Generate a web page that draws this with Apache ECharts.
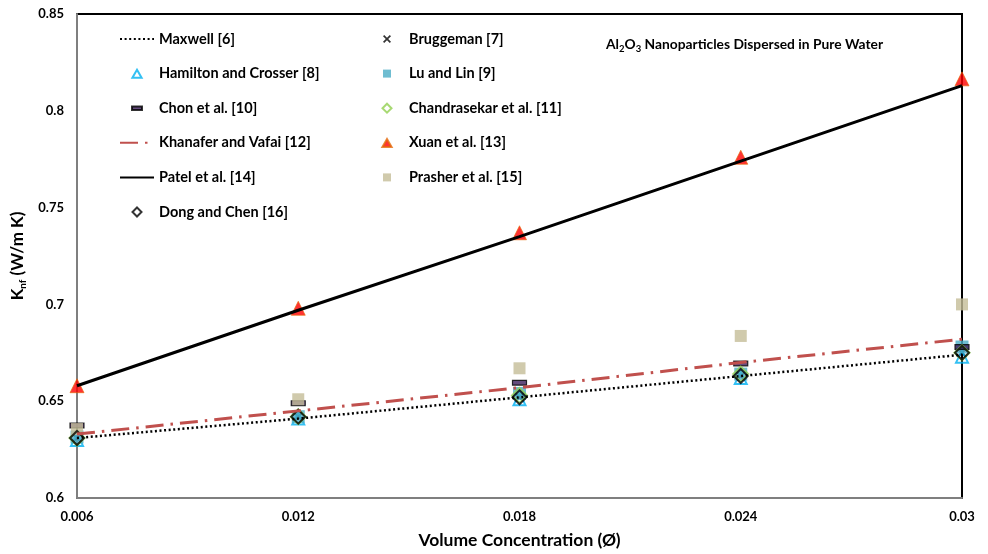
<!DOCTYPE html>
<html><head><meta charset="utf-8">
<script src="https://cdn.jsdelivr.net/npm/echarts@6/dist/echarts.min.js"></script>
<style>html,body{margin:0;padding:0;background:#fff}#c{width:988px;height:554px}</style>
</head><body><div id="c"></div>
<script>
const xLabels = ['0.006','0.012','0.018','0.024','0.03'];
const maxwell = [0.631,0.641,0.652,0.663,0.674];
const bruggeman = [0.631,0.642,0.652,0.663,0.675];
const hamilton = [0.630,0.641,0.651,0.662,0.673];
const luLin = [0.6315,0.642,0.654,0.664,0.678];
const chon = [0.6375,0.649,0.6595,0.6695,0.678];
const chandra = [0.631,0.642,0.653,0.664,0.675];
const khanafer = [0.633,0.645,0.657,0.670,0.682];
const xuan = [0.658,0.698,0.737,0.776,0.8165];
const patel = [0.658,0.697,0.735,0.774,0.813];
const prasher = [0.6356,0.651,0.667,0.6837,0.700];
const dong = [0.631,0.642,0.652,0.663,0.675];

const FONT = 'Lato';
const crossPath = 'path://M0,1.4L1.4,0L5,3.6L8.6,0L10,1.4L6.4,5L10,8.6L8.6,10L5,6.4L1.4,10L0,8.6L3.6,5Z';
const dashPath = 'path://M0,0M14,14M0,4.6h14v4.8h-14z';
const crossIcon = 'path://M0,0M10,10M1,2.2L2.2,1L5,3.8L7.8,1L9,2.2L6.2,5L9,7.8L7.8,9L5,6.2L2.2,9L1,7.8L3.8,5Z';
const triIcon = 'path://M0,0M10,10M5,1.2L9.6,9.2L0.4,9.2Z';
const sqIcon = 'path://M0,0M10,10M1,1h8v8h-8z';
const diaIcon = 'path://M0,0M10,10M5,0.5L9.5,5L5,9.5L0.5,5Z';
const dashIcon = 'path://M0,0M10,10M0,3.2h10v3.6h-10z';

function sc(name, data, symbol, size, itemStyle) {
  return {name, type:'scatter', data, symbol, symbolSize:size, itemStyle};
}
const noDot = {color:'rgba(0,0,0,0)', borderWidth:0};
const series = [
  {name:'Maxwell [6]', type:'line', data:maxwell, symbol:'none', itemStyle:noDot,
   lineStyle:{color:'#000', width:2.5, type:[2,2.6]}},
  sc('Bruggeman [7]', bruggeman, crossPath, 10, {color:'#000'}),
  sc('Hamilton and Crosser [8]', hamilton, 'triangle', 12, {color:'rgba(255,255,255,0)', borderColor:'#00b0f0', borderWidth:2}),
  sc('Lu and Lin [9]', luLin, 'rect', 13, {color:'#4bacc6'}),
  sc('Chon et al. [10]', chon, dashPath, 14, {color:'#3d1f5c', borderColor:'#000', borderWidth:1.2}),
  sc('Chandrasekar et al. [11]', chandra, 'diamond', 15, {color:'rgba(255,255,255,0)', borderColor:'#92d050', borderWidth:2}),
  {name:'Khanafer and Vafai [12]', type:'line', data:khanafer, symbol:'none', itemStyle:noDot,
   lineStyle:{color:'#c0504d', width:3, type:[18,7,2.5,7]}},
  sc('Xuan et al. [13]', xuan, 'triangle', 14, {color:'#ff0000', borderColor:'#e46c0a', borderWidth:0.8}),
  {name:'Patel et al. [14]', type:'line', data:patel, symbol:'none', itemStyle:noDot,
   lineStyle:{color:'#000', width:3}},
  sc('Prasher et al. [15]', prasher, 'rect', 12, {color:'#c4bd97'}),
  sc('Dong and Chen [16]', dong, 'diamond', 14, {color:'rgba(255,255,255,0)', borderColor:'#000', borderWidth:2})
];

const legendCommon = {
  orient:'vertical', top:31.5, itemWidth:34, itemHeight:10, itemGap:19.6, padding:0,
  symbolKeepAspect:true,
  textStyle:{fontFamily:FONT, fontWeight:'bold', fontSize:14.5, color:'#000', lineHeight:14},
  selectedMode:false
};

const chart = echarts.init(document.getElementById('c'), null, {renderer:'canvas'});
chart.setOption({
  animation:false,
  backgroundColor:'#fff',
  title:{
    text:'Al{s|2}O{s|3} Nanoparticles Dispersed in Pure Water',
    left:606, top:36, padding:0,
    textStyle:{fontFamily:FONT, fontWeight:'bold', fontSize:13.8, color:'#000',
      rich:{s:{fontFamily:FONT, fontWeight:'bold', fontSize:9.5, color:'#000', padding:[8,0,0,0]}}}
  },
  grid:{left:77, right:26, top:14, bottom:56, show:true, borderColor:'#000', borderWidth:2, containLabel:false},
  legend:[
    Object.assign({left:119, data:[
      {name:'Maxwell [6]'},
      {name:'Hamilton and Crosser [8]', icon:triIcon},
      {name:'Chon et al. [10]', icon:dashIcon},
      {name:'Khanafer and Vafai [12]'},
      {name:'Patel et al. [14]'},
      {name:'Dong and Chen [16]', icon:diaIcon}]}, legendCommon),
    Object.assign({left:381, data:[
      {name:'Bruggeman [7]', icon:crossIcon},
      {name:'Lu and Lin [9]', icon:sqIcon},
      {name:'Chandrasekar et al. [11]', icon:diaIcon},
      {name:'Xuan et al. [13]', icon:triIcon},
      {name:'Prasher et al. [15]', icon:sqIcon}]}, legendCommon)
  ],
  xAxis:{
    type:'category', data:xLabels, boundaryGap:false,
    name:'Volume Concentration (Ø)', nameLocation:'middle', nameGap:33,
    nameTextStyle:{fontFamily:FONT, fontWeight:'bold', fontSize:17.5, color:'#000'},
    axisLine:{lineStyle:{color:'#7f7f7f', width:2}},
    axisTick:{show:false},
    axisLabel:{fontFamily:FONT, fontWeight:'bold', fontSize:13, color:'#000', margin:12},
    splitLine:{show:false}
  },
  yAxis:{
    type:'value', min:0.6, max:0.85, interval:0.05,
    name:'K{sub|nf} (W/m K)', nameLocation:'middle', nameGap:40,
    nameTextStyle:{fontFamily:FONT, fontWeight:'bold', fontSize:17, color:'#000',
      rich:{sub:{fontFamily:FONT, fontWeight:'bold', fontSize:10, color:'#000', padding:[10,0,0,0]}}},
    axisLine:{show:true, lineStyle:{color:'#7f7f7f', width:2}},
    axisTick:{show:false},
    axisLabel:{fontFamily:FONT, fontWeight:'bold', fontSize:13, color:'#000', margin:13,
      formatter:v=>String(+v.toFixed(2))},
    splitLine:{show:false}
  },
  series
});
</script></body></html>
